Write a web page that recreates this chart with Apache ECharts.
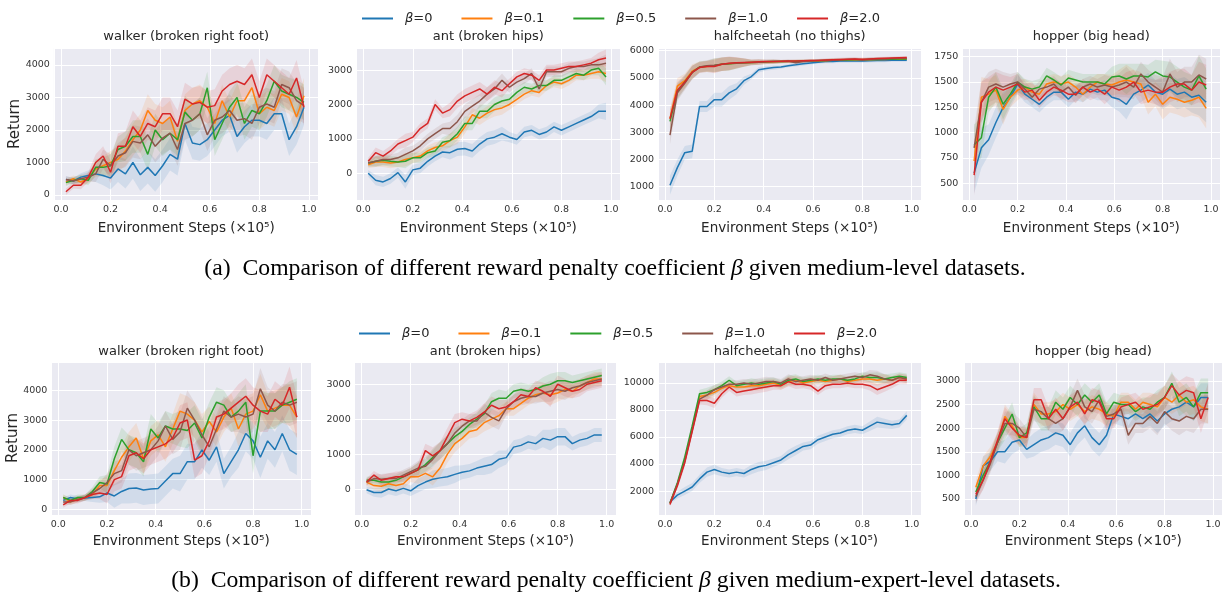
<!DOCTYPE html>
<html>
<head>
<meta charset="utf-8">
<script src="https://cdn.jsdelivr.net/npm/echarts@6/dist/echarts.min.js"></script>
<style>
  html, body { margin: 0; padding: 0; background: #fff; }
  #chart { width: 1227px; height: 594px; }
</style>
</head>
<body>
<div id="chart"></div>
<script>
// x positions (environment steps, x1e5)
const steps = [0.02,0.05,0.08,0.11,0.14,0.17,0.20,0.23,0.26,0.29,0.32,0.35,0.38,0.41,0.44,0.47,0.50,0.53,0.56,0.59,0.62,0.65,0.68,0.71,0.74,0.77,0.80,0.83,0.86,0.89,0.92,0.95,0.98];

const betaNames = ['β=0', 'β=0.1', 'β=0.5', 'β=1.0', 'β=2.0'];
const panelTitles = ['walker (broken right foot)', 'ant (broken hips)', 'halfcheetah (no thighs)', 'hopper (big head)',
                     'walker (broken right foot)', 'ant (broken hips)', 'halfcheetah (no thighs)', 'hopper (big head)'];
const yTickStep = [1000, 1000, 1000, 250, 1000, 1000, 2000, 500];
const xTickStep = 0.2;

// ---- medium-level datasets ----
const walkerMedB0  = [480,430,550,600,650,600,520,800,650,1000,620,850,600,900,1250,1100,2200,1600,1550,1700,2000,2300,2450,1800,2100,2300,2300,2200,2500,2500,1700,2100,2700];
const walkerMedB01 = [400,500,400,500,800,900,1000,1100,1350,1700,2000,2600,2300,2200,2400,1650,2600,2800,2900,2700,2200,2900,2400,2900,2900,3300,2500,2700,2600,3100,3000,2400,3050];
const walkerMedB05 = [380,450,500,450,850,850,900,1400,1500,1800,1800,1250,2000,1700,1900,1700,2550,2300,2500,3300,1700,2200,2700,3000,2200,2600,2500,2900,3500,3200,3100,3000,2850];
const walkerMedB10 = [480,430,500,550,650,1100,900,1200,1300,1650,1600,1850,1500,1750,1900,1400,2200,2300,2500,1850,2300,2400,2600,2300,2350,2200,2700,2800,2700,3400,3300,2900,2750];
const walkerMedB20 = [100,300,300,550,1000,1200,700,1500,1500,2100,1800,2200,2100,2500,2500,2100,2950,2800,2850,2700,2750,3200,3400,3500,3400,3700,3000,3700,3500,3300,3100,3600,2700];
const walkerMedSd  = [100,100,120,150,250,300,350,400,450,500,500,500,500,500,500,500,500,500,500,500,500,500,500,500,500,500,500,500,500,500,500,550,550];

const antMedB0  = [0,-200,-250,-150,20,-250,100,150,350,500,620,600,700,720,650,850,1000,1050,1150,1050,980,1200,1250,1130,1200,1350,1250,1350,1450,1550,1650,1800,1800];
const antMedB01 = [250,330,330,300,330,400,450,500,650,750,800,950,1050,1350,1700,1600,1750,1850,1900,2000,2150,2300,2400,2350,2550,2650,2600,2700,2850,2850,2900,2950,2900];
const antMedB05 = [300,350,380,350,330,350,450,450,600,650,900,950,1150,1450,1450,1800,1800,2000,2100,2150,2350,2500,2450,2550,2550,2700,2700,2800,2900,2850,3000,3050,2800];
const antMedB10 = [300,350,400,400,450,550,650,800,1000,1150,1300,1300,1500,1800,1950,2100,2300,2450,2700,2500,2650,2750,2900,2450,2950,2950,2950,3050,3100,3100,3150,3150,3200];
const antMedB20 = [350,600,500,650,850,950,1050,1300,1450,2000,1750,1850,2100,2250,2350,2450,2300,2500,2400,2600,2800,2900,2850,2700,3000,3000,3050,3100,3100,3150,3200,3300,3350];
const antMedSd  = [100,150,150,150,150,200,150,150,150,150,150,200,200,200,200,200,200,200,200,150,150,150,150,150,150,150,150,150,150,150,150,200,250];

const cheetahMedB0  = [1050,1700,2250,2300,3950,3950,4200,4200,4450,4600,4900,5050,5300,5350,5380,5400,5450,5480,5520,5550,5580,5600,5600,5620,5620,5620,5620,5630,5640,5640,5650,5650,5650];
const cheetahMedB01 = [3500,4700,4900,5250,5400,5420,5450,5500,5520,5550,5560,5570,5580,5580,5590,5600,5600,5610,5620,5620,5630,5630,5650,5650,5660,5660,5670,5670,5680,5680,5690,5690,5700];
const cheetahMedB05 = [3400,4500,4850,5200,5400,5430,5460,5500,5520,5540,5560,5570,5580,5590,5600,5600,5610,5610,5620,5630,5630,5640,5650,5650,5660,5670,5670,5680,5680,5690,5690,5700,5700];
const cheetahMedB10 = [2900,4450,4800,5200,5400,5450,5470,5500,5530,5550,5560,5570,5580,5590,5600,5600,5610,5560,5600,5620,5640,5640,5650,5660,5680,5690,5650,5690,5700,5700,5710,5720,5720];
const cheetahMedB20 = [3500,4550,4850,5200,5380,5420,5420,5500,5540,5560,5570,5580,5590,5600,5600,5610,5620,5620,5630,5640,5640,5660,5670,5680,5690,5700,5690,5700,5710,5720,5730,5740,5750];
const cheetahMedSd  = [350,300,250,250,200,200,250,250,250,200,150,100,100,80,80,60,60,60,60,60,60,60,60,60,60,60,60,60,60,60,60,60,60];

const hopperMedB0  = [600,850,930,1100,1250,1350,1480,1380,1330,1280,1350,1400,1400,1330,1400,1380,1430,1400,1420,1350,1330,1280,1380,1420,1470,1400,1380,1430,1380,1400,1350,1370,1300];
const hopperMedB01 = [720,1350,1380,1420,1230,1350,1420,1450,1400,1380,1480,1500,1480,1500,1450,1380,1450,1500,1480,1470,1500,1520,1500,1480,1300,1380,1280,1350,1330,1300,1320,1350,1240];
const hopperMedB05 = [880,950,1350,1450,1280,1380,1500,1450,1430,1450,1560,1520,1470,1540,1520,1500,1500,1500,1480,1550,1560,1530,1560,1560,1550,1600,1560,1550,1500,1450,1420,1560,1430];
const hopperMedB10 = [850,1300,1450,1480,1450,1480,1500,1430,1350,1430,1450,1480,1400,1450,1370,1450,1480,1450,1470,1450,1470,1500,1450,1580,1500,1450,1400,1580,1450,1500,1500,1570,1530];
const hopperMedB20 = [580,1300,1400,1450,1420,1450,1480,1400,1420,1320,1400,1450,1420,1380,1380,1450,1400,1430,1380,1450,1420,1450,1500,1400,1420,1400,1400,1450,1480,1480,1420,1500,1470];
const hopperMedSd  = [200,200,150,150,150,100,100,80,80,80,80,80,80,80,80,80,80,80,100,100,120,150,120,120,120,120,150,150,150,150,150,200,200];

// ---- medium-expert-level datasets ----
const walkerExpB0  = [300,400,350,380,400,420,550,450,600,700,720,650,680,700,950,1200,1200,1600,1600,2000,1650,2100,1200,1600,2000,2550,2300,1750,2300,2000,2550,2000,1850];
const walkerExpB01 = [400,250,350,400,500,800,800,1300,1750,2100,2400,1700,2300,2500,2100,2700,3300,3200,3000,2600,2950,2600,3100,3400,2700,3200,3300,3850,3300,3400,3500,3500,3100];
const walkerExpB05 = [400,300,400,400,600,900,850,1700,2350,2000,1900,1600,2700,2400,2800,2700,2700,2650,2900,2400,3100,3600,3500,3100,3300,3600,1800,3300,3300,3300,3500,3600,3700];
const walkerExpB10 = [250,250,330,400,550,700,900,1200,1300,2000,1800,1900,2000,2300,2800,2350,2600,3400,3000,2500,2100,2700,3300,3100,3200,3100,3200,4050,3500,3300,3600,3500,3600];
const walkerExpB20 = [150,300,300,400,500,550,500,1000,1100,1800,1900,1700,2000,2100,2200,2400,2900,3000,1650,1800,2300,3100,3200,3400,3600,3800,3500,3300,3200,3700,3500,4100,3100];
const walkerExpSd  = [100,100,100,100,150,200,300,400,400,500,500,500,500,500,500,500,600,600,600,600,500,500,500,500,600,600,600,700,600,600,600,700,700];

const antExpB0  = [-20,-100,-100,0,-50,20,-50,100,200,280,320,350,420,480,520,600,650,700,850,900,1200,1250,1350,1300,1450,1400,1500,1500,1300,1400,1450,1550,1550];
const antExpB01 = [200,100,80,150,100,150,350,350,450,350,600,1000,1300,1450,1650,1700,1900,2000,2100,2300,2300,2450,2600,2700,2750,2700,2750,2850,2800,2950,3050,3150,3150];
const antExpB05 = [250,250,200,200,250,350,450,550,700,900,1100,1300,1500,1650,1850,2000,2150,2500,2600,2600,2800,2850,2800,2850,2950,3000,3100,3100,3050,3100,3150,3200,3250];
const antExpB10 = [200,300,280,300,300,400,500,600,650,850,1100,1300,1600,1800,1950,1950,2200,2050,1950,2300,2500,2600,2650,2650,2750,2800,2850,2800,2900,2950,3050,3100,3150];
const antExpB20 = [200,400,250,300,350,350,450,550,1100,950,1100,1500,1900,2000,1950,2050,2200,2400,2300,2350,2500,2700,2650,2900,2800,2650,3000,2900,2800,2850,3000,3050,3100];
const antExpSd  = [100,120,150,150,150,150,150,200,200,250,250,250,250,200,200,200,250,250,250,200,200,200,200,200,250,300,250,250,200,200,200,200,200];

const cheetahExpB0  = [1200,1700,2000,2300,2900,3400,3600,3400,3300,3400,3300,3600,3800,3900,4100,4300,4700,5000,5300,5400,5800,6000,6200,6300,6500,6600,6500,6800,7100,7000,6900,7000,7600];
const cheetahExpB01 = [1100,2500,4300,6600,9000,9100,9300,9600,9800,9700,9700,9800,9800,9900,10000,9800,10100,10200,10000,10100,10200,10100,10200,10300,10100,10200,10300,10300,10200,10300,10200,10400,10300];
const cheetahExpB05 = [1100,2600,4500,6800,9200,9300,9500,9800,10200,9800,9900,10000,9900,10000,10100,9900,10200,10300,10100,10200,10300,10200,10300,10300,10200,10300,10500,10400,10400,10300,10400,10500,10400];
const cheetahExpB10 = [1100,2500,4200,6500,8800,9100,9500,9700,9900,9900,10000,9900,10000,10100,10100,10000,10300,10100,10200,10300,10200,10400,10200,10300,10400,10500,10400,10600,10500,10300,10200,10400,10300];
const cheetahExpB20 = [1000,2400,4100,6400,8700,8700,8500,9200,9700,9300,9400,9500,9600,9700,9800,9800,10100,9900,9900,9800,9400,9800,9900,9900,10000,9900,9900,9800,9500,9700,9900,10200,10200];
const cheetahExpSd  = [150,250,300,300,300,350,350,300,300,300,300,350,350,350,300,300,350,350,300,300,300,300,300,300,300,300,300,350,400,350,300,300,300];

const hopperExpB0  = [500,1200,1300,1500,1500,1700,1750,1550,1650,1750,1800,1900,1850,1650,1900,2050,1800,1650,1850,2300,2250,2200,2300,2200,2300,2150,2300,2400,2450,2550,2450,2650,2650];
const hopperExpB01 = [750,1200,1400,1700,2250,2050,1800,1800,2500,2300,2300,2350,2500,2400,2500,2350,2450,2400,2300,2250,2550,2550,2400,2550,2500,2450,2650,2550,2700,2550,2600,2450,2400];
const hopperExpB05 = [650,1000,1300,1700,2000,2300,1800,1900,2450,2200,2200,2550,2400,2650,2500,2700,2550,2700,2300,2550,2500,2500,2350,2450,2400,2550,2650,2950,2550,2650,2450,2750,2750];
const hopperExpB10 = [550,900,1250,1700,2100,2100,2000,1800,2400,2350,2200,2100,2200,2450,2800,2450,2350,2600,2250,2300,2400,1850,2100,2100,2250,2100,2350,2200,2150,2250,2200,2400,2400];
const hopperExpB20 = [600,900,1300,1750,2200,2000,1850,1800,2600,2600,2200,2400,2200,2450,2550,2300,2600,2550,2200,2200,2450,2500,2550,2400,2450,2500,2650,2900,2700,2800,2750,2200,2650];
const hopperExpSd  = [150,200,200,200,250,250,200,200,250,250,250,250,250,250,250,250,250,250,250,200,200,200,200,200,250,250,250,250,300,300,300,300,300];

const panelLines = [
  [walkerMedB0, walkerMedB01, walkerMedB05, walkerMedB10, walkerMedB20],
  [antMedB0, antMedB01, antMedB05, antMedB10, antMedB20],
  [cheetahMedB0, cheetahMedB01, cheetahMedB05, cheetahMedB10, cheetahMedB20],
  [hopperMedB0, hopperMedB01, hopperMedB05, hopperMedB10, hopperMedB20],
  [walkerExpB0, walkerExpB01, walkerExpB05, walkerExpB10, walkerExpB20],
  [antExpB0, antExpB01, antExpB05, antExpB10, antExpB20],
  [cheetahExpB0, cheetahExpB01, cheetahExpB05, cheetahExpB10, cheetahExpB20],
  [hopperExpB0, hopperExpB01, hopperExpB05, hopperExpB10, hopperExpB20]
];
const panelSpread = [walkerMedSd, antMedSd, cheetahMedSd, hopperMedSd, walkerExpSd, antExpSd, cheetahExpSd, hopperExpSd];

// layout of the 8 plot areas (pixels) and their visible y ranges
const layout = [
  {left: 53.9, top: 48, width: 264.6, height: 152, yMin: -154, yMax: 4523},
  {left: 356.2, top: 48, width: 264.3, height: 152, yMin: -775, yMax: 3640},
  {left: 658, top: 48, width: 263.2, height: 152, yMin: 510, yMax: 6100},
  {left: 962.4, top: 48, width: 257.9, height: 152, yMin: 335, yMax: 1836},
  {left: 51.4, top: 362, width: 259.7, height: 153, yMin: -190, yMax: 4950},
  {left: 354.7, top: 362, width: 261.4, height: 153, yMin: -743, yMax: 3637},
  {left: 658, top: 362, width: 263.2, height: 153, yMin: 228, yMax: 11550},
  {left: 964.1, top: 362, width: 258.2, height: 153, yMin: 162, yMax: 3400}
];
const colors = ['#1f77b4', '#ff7f0e', '#2ca02c', '#8c564b', '#d62728'];
const textColor = '#262626';
const sans = 'DejaVu Sans';

function fade(hex, a) {
  const n = parseInt(hex.slice(1), 16);
  return 'rgba(' + (n >> 16) + ',' + ((n >> 8) & 255) + ',' + (n & 255) + ',' + a + ')';
}

let myChart = echarts.init(document.getElementById('chart'), null, {renderer: 'canvas'});

let grids = [], xAxes = [], yAxes = [], series = [], graphics = [];

layout.forEach((g, p) => {
  grids.push({
    left: g.left, top: g.top, width: g.width, height: g.height,
    show: true, backgroundColor: '#eaeaf2', borderWidth: 0,
    containLabel: false, outerBoundsMode: 'none'
  });
  xAxes.push({
    type: 'value', gridIndex: p,
    min: -0.0285, max: 1.0385,
    minInterval: xTickStep, maxInterval: xTickStep,
    axisLine: {show: false}, axisTick: {show: false},
    splitLine: {show: true, lineStyle: {color: '#fff', width: 1}},
    axisLabel: {
      fontSize: 9.5, fontFamily: sans, color: '#333', margin: 5,
      showMinLabel: false, showMaxLabel: false,
      formatter: v => v.toFixed(1)
    }
  });
  yAxes.push({
    type: 'value', gridIndex: p,
    min: g.yMin, max: g.yMax,
    minInterval: yTickStep[p], maxInterval: yTickStep[p],
    axisLine: {show: false}, axisTick: {show: false},
    splitLine: {show: true, lineStyle: {color: '#fff', width: 1}},
    axisLabel: {
      fontSize: 9.5, fontFamily: sans, color: '#333', margin: 4,
      showMinLabel: false, showMaxLabel: false,
      formatter: v => String(Math.round(v))
    }
  });

  const sd = panelSpread[p];
  panelLines[p].forEach((vals, s) => {
    // shaded spread drawn as one polygon through the axis scales
    const band = steps.map((x, i) => [x, vals[i] - sd[i], vals[i] + sd[i]]);
    series.push({
      type: 'custom', xAxisIndex: p, yAxisIndex: p,
      data: band, encode: {x: 0, y: [1, 2]},
      silent: true, z: 1, clip: true,
      renderItem: (params, api) => {
        if (params.dataIndex !== 0) return null;
        const upper = band.map(d => api.coord([d[0], d[2]]));
        const lower = band.map(d => api.coord([d[0], d[1]])).reverse();
        return {
          type: 'polygon',
          shape: {points: upper.concat(lower)},
          style: {fill: fade(colors[s], 0.12), stroke: null}
        };
      }
    });
  });
  panelLines[p].forEach((vals, s) => {
    series.push({
      type: 'line', name: betaNames[s], xAxisIndex: p, yAxisIndex: p,
      data: steps.map((x, i) => [x, vals[i]]),
      symbol: 'none', z: 2 + s,
      lineStyle: {color: colors[s], width: 1.5},
      itemStyle: {color: colors[s]},
      emphasis: {disabled: true}
    });
  });

  const cx = g.left + g.width / 2;
  const row = p < 4 ? 0 : 1;
  graphics.push({
    type: 'text', x: cx, y: row === 0 ? 37 : 351.7,
    style: {text: panelTitles[p], fill: textColor, fontSize: 13, fontFamily: sans, align: 'center', verticalAlign: 'middle'}
  });
  graphics.push({
    type: 'text', x: cx, y: row === 0 ? 228 : 541,
    style: {text: 'Environment Steps (×10⁵)', fill: textColor, fontSize: 13.5, fontFamily: sans, align: 'center', verticalAlign: 'middle'}
  });
});

graphics.push({
  type: 'text', x: 15, y: 124, rotation: Math.PI / 2,
  style: {text: 'Return', fill: textColor, fontSize: 15, fontFamily: sans, align: 'center', verticalAlign: 'middle'}
});
graphics.push({
  type: 'text', x: 12.7, y: 438, rotation: Math.PI / 2,
  style: {text: 'Return', fill: textColor, fontSize: 15, fontFamily: sans, align: 'center', verticalAlign: 'middle'}
});

const serif = 'Liberation Serif';
const captionRich = {i: {fontStyle: 'italic', fontFamily: serif, fontSize: 23.7, fill: '#000'}};
graphics.push({
  type: 'text', x: 615, y: 269,
  style: {text: '(a)  Comparison of different reward penalty coefficient {i|β} given medium-level datasets.',
          rich: captionRich, fill: '#000', fontSize: 23.7, fontFamily: serif, align: 'center', verticalAlign: 'middle'}
});
graphics.push({
  type: 'text', x: 616, y: 581,
  style: {text: '(b)  Comparison of different reward penalty coefficient {i|β} given medium-expert-level datasets.',
          rich: captionRich, fill: '#000', fontSize: 23.7, fontFamily: serif, align: 'center', verticalAlign: 'middle'}
});

const legendBase = {
  data: betaNames, orient: 'horizontal', icon: 'rect', itemWidth: 31, itemHeight: 2, itemGap: 29,
  selectedMode: false,
  formatter: name => '{i|β}{n|' + name.slice(1) + '}',
  textStyle: {
    color: textColor, fontSize: 13, fontFamily: sans, padding: [0, 0, 0, 7],
    rich: {
      i: {fontStyle: 'italic', fontSize: 13, fontFamily: sans, color: textColor},
      n: {fontSize: 13, fontFamily: sans, color: textColor}
    }
  }
};

myChart.setOption({
  animation: false,
  backgroundColor: '#fff',
  legend: [
    Object.assign({}, legendBase, {left: 357, top: 7}),
    Object.assign({}, legendBase, {left: 354, top: 322})
  ],
  grid: grids,
  xAxis: xAxes,
  yAxis: yAxes,
  series: series,
  graphic: graphics
});
</script>
</body>
</html>
